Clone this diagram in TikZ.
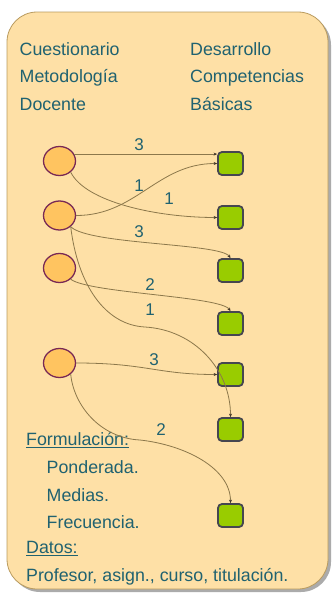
\documentclass[tikz,border=0pt]{standalone}
\usepackage{fontspec}
\setmainfont{Liberation Sans}
\usetikzlibrary{shapes.geometric,arrows.meta}
\definecolor{bgc}{RGB}{254,224,166}
\definecolor{bgborder}{RGB}{185,155,95}
\definecolor{shadowc}{RGB}{150,150,150}
\definecolor{txtc}{RGB}{32,98,112}
\definecolor{circfill}{RGB}{255,196,96}
\definecolor{circdraw}{RGB}{120,40,85}
\definecolor{sqfill}{RGB}{153,204,0}
\definecolor{sqdraw}{RGB}{70,70,80}
\definecolor{linec}{RGB}{140,120,75}
\definecolor{tipc}{RGB}{60,50,40}
\begin{document}
\begin{tikzpicture}[x=1pt,y=-1pt,
  src/.style={ellipse, draw=circdraw, fill=circfill, line width=1.3pt, minimum width=32pt, minimum height=29pt, inner sep=0pt},
  dst/.style={rectangle, rounded corners=4pt, draw=sqdraw, fill=sqfill, line width=1.8pt, minimum width=25pt, minimum height=23pt, inner sep=0pt},
  lbl/.style={text=txtc, font=\fontsize{17.8}{20}\selectfont, inner sep=0pt, anchor=base west},
  num/.style={text=txtc, font=\fontsize{17}{20}\selectfont, inner sep=0pt},
  conn/.style={draw=linec, line width=0.8pt, -{Stealth[length=3.5pt,width=3pt,color=tipc]}},
  uline/.style={draw=txtc, line width=0.9pt}
]
\useasboundingbox (0,0) rectangle (332,595);
% panel with shadow
\fill[shadowc, opacity=0.8, rounded corners=30pt] (10,15) rectangle (331,592);
\draw[bgborder, fill=bgc, rounded corners=30pt, line width=0.8pt] (7,12) rectangle (328,589);

% header texts
\node[lbl] (t1) at (19.5,55) {Cuestionario};
\node[lbl] (t2) at (19.5,82.5) {Metodología};
\node[lbl] (t3) at (19.5,110) {Docente};
\node[lbl] (t4) at (190,55) {Desarrollo};
\node[lbl] (t5) at (190,82.5) {Competencias};
\node[lbl] (t6) at (190,110) {Básicas};

% footer texts
\node[lbl] (f1) at (26,445) {Formulación:};
\node[lbl] (f2) at (46.5,473) {Ponderada.};
\node[lbl] (f3) at (46.5,501) {Medias.};
\node[lbl] (f4) at (46.5,528) {Frecuencia.};
\node[lbl] (f5) at (26,553) {Datos:};
\node[lbl] (f6) at (26,581.5) {Profesor, asign., curso, titulación.};
\draw[uline] ([yshift=-2.8pt]f1.base west) -- ([yshift=-2.8pt]f1.base east);
\draw[uline] ([yshift=-2.8pt]f5.base west) -- ([yshift=-2.8pt]f5.base east);

% source circles
\node[src] (c1) at (59.5,161) {};
\node[src] (c2) at (59.5,215.5) {};
\node[src] (c3) at (59.5,268) {};
\node[src] (c4) at (59.5,363) {};

% target squares
\node[dst] (s1) at (230.5,163.5) {};
\node[dst] (s2) at (230.5,217.5) {};
\node[dst] (s3) at (230.5,270.5) {};
\node[dst] (s4) at (230.5,323.5) {};
\node[dst] (s5) at (230.5,374.5) {};
\node[dst] (s6) at (230.5,429.5) {};
\node[dst] (s7) at (230.5,515.5) {};

% connectors
\draw[conn] (c1.25) -- (c1.25 -| s1.west);
\draw[conn] (c1.-45) .. controls +(15,30) and +(-60,0) .. (s2.west);
\draw[conn] (c2.east) .. controls +(60,0) and +(-60,0) .. (s1.west);
\draw[conn] (c2.-45) .. controls +(18,18) and +(-10,-15) .. (s3.north);
\coordinate (m5) at (145,327);
\draw[conn] (c2.-45) .. controls +(7,58) and +(-40,-2) .. (m5) .. controls +(50,3) and +(0,-47) .. (s6.north);
\draw[conn] (c3.-45) .. controls +(18,14) and +(-10,-15) .. (s4.north);
\draw[conn] (c4.east) .. controls +(70,0) and +(-60,0) .. (s5.west);
\coordinate (m8) at (140,440);
\draw[conn] (c4.-45) .. controls +(3,31) and +(-40,-2) .. (m8) .. controls +(45,5) and +(0,-35) .. (s7.north);

% weights
\node[num] (n1) at (139,144.5) {3};
\node[num] (n2) at (139,186) {1};
\node[num] (n3) at (169,199) {1};
\node[num] (n4) at (139,232) {3};
\node[num] (n5) at (150,285) {2};
\node[num] (n6) at (150,310) {1};
\node[num] (n7) at (154,360) {3};
\node[num] (n8) at (161,430) {2};
\end{tikzpicture}
\end{document}
